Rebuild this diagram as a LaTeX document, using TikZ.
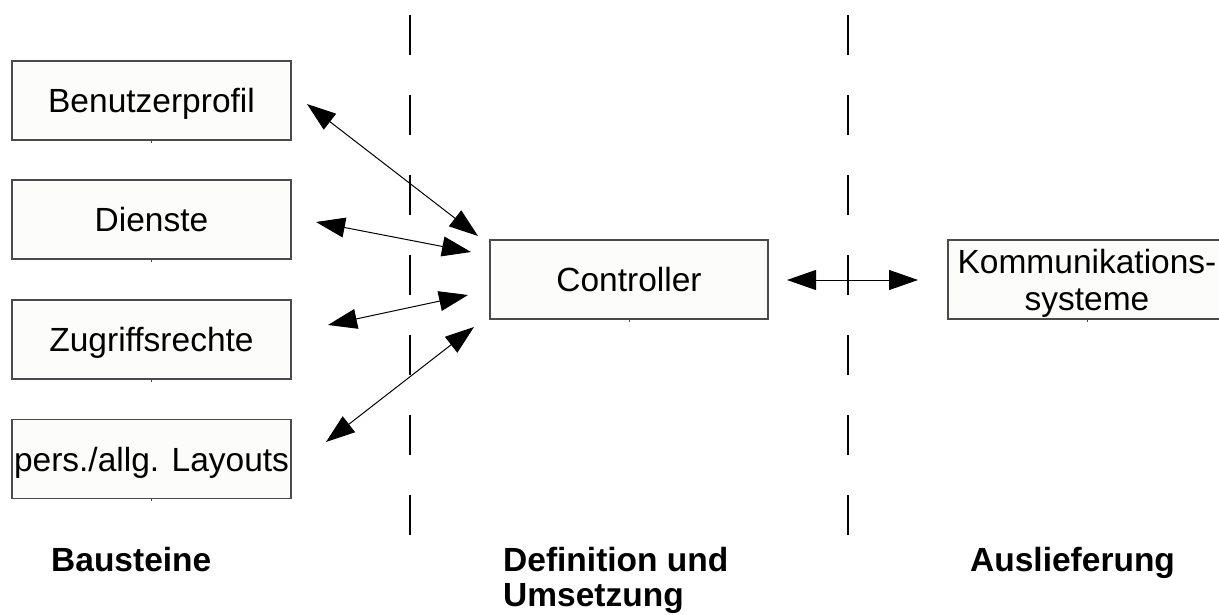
\documentclass[tikz,border=0pt]{standalone}
\usepackage{fontspec}
\setmainfont{Liberation Sans}
\usetikzlibrary{arrows.meta}
\definecolor{boxfill}{HTML}{FCFCFA}
\definecolor{boxedge}{HTML}{4A4A4A}
\tikzset{
  stage/.style={draw=boxedge, line width=1.3pt, fill=boxfill,
    minimum width=279pt, minimum height=79pt, inner sep=0pt,
    text height=24pt, text depth=0pt,
    font=\fontsize{33.5}{37}\selectfont},
  link/.style={line width=1pt,
    {Triangle[length=29pt,width=20pt]}-{Triangle[length=29pt,width=20pt]}},
  divider/.style={line width=1.2pt, dash pattern=on 40pt off 40pt},
  phase/.style={font=\bfseries\fontsize{33.5}{35}\selectfont,
    inner sep=0pt, anchor=base west, align=left},
  notch/.style={draw=boxedge, line width=1pt},
}
\begin{document}
\begin{tikzpicture}[x=1pt,y=-1pt]
\useasboundingbox (0,0) rectangle (1219,615);

% phase dividers
\coordinate (d1t) at (410,15);
\coordinate (d1b) at (410,535);
\coordinate (d2t) at (848,15);
\coordinate (d2b) at (848,535);
\draw[divider] (d1t) -- (d1b);
\draw[divider] (d2t) -- (d2b);

% building blocks
\node[stage] (prof) at (151.5,100.5) {Benutzerprofil};
\node[stage] (dien) at (151.5,219.5) {Dienste};
\node[stage] (zugr) at (151.5,339.5) {Zugriffsrechte};
\node[stage] (layo) at (151.5,459)   {pers./allg. Layouts};

% controller and delivery
\node[stage, minimum width=278pt] (ctrl) at (629,279.5) {Controller};
\node[stage, minimum width=278pt, align=center, text height=61pt,
      font=\fontsize{33.5}{37}\selectfont] (komm) at (1087,279.5)
      {Kommunikations-\\systeme};

% small marks at the bottom centre of each box
\foreach \b in {prof,dien,zugr,layo,ctrl,komm}
  \draw[notch] (\b.south) -- ++(0,2);

% arrow end points
\coordinate (prof-e) at (307,104);
\coordinate (dien-e) at (316,222);
\coordinate (zugr-e) at (328,325);
\coordinate (layo-e) at (326,442);
\coordinate (ctrl-a) at (478,236);
\coordinate (ctrl-b) at (471,252);
\coordinate (ctrl-c) at (468,295);
\coordinate (ctrl-d) at (474,327);
\coordinate (ctrl-e) at (787,280);
\coordinate (komm-w) at (918,280);

\draw[link] (prof-e) -- (ctrl-a);
\draw[link] (dien-e) -- (ctrl-b);
\draw[link] (zugr-e) -- (ctrl-c);
\draw[link] (layo-e) -- (ctrl-d);
\draw[link] (ctrl-e) -- (komm-w);

% phase captions
\node[phase] (p1) at (51,571) {Bausteine};
\node[phase] (p2) at (503,606) {Definition und\\Umsetzung};
\node[phase] (p3) at (970,571) {Auslieferung};
\end{tikzpicture}
\end{document}
